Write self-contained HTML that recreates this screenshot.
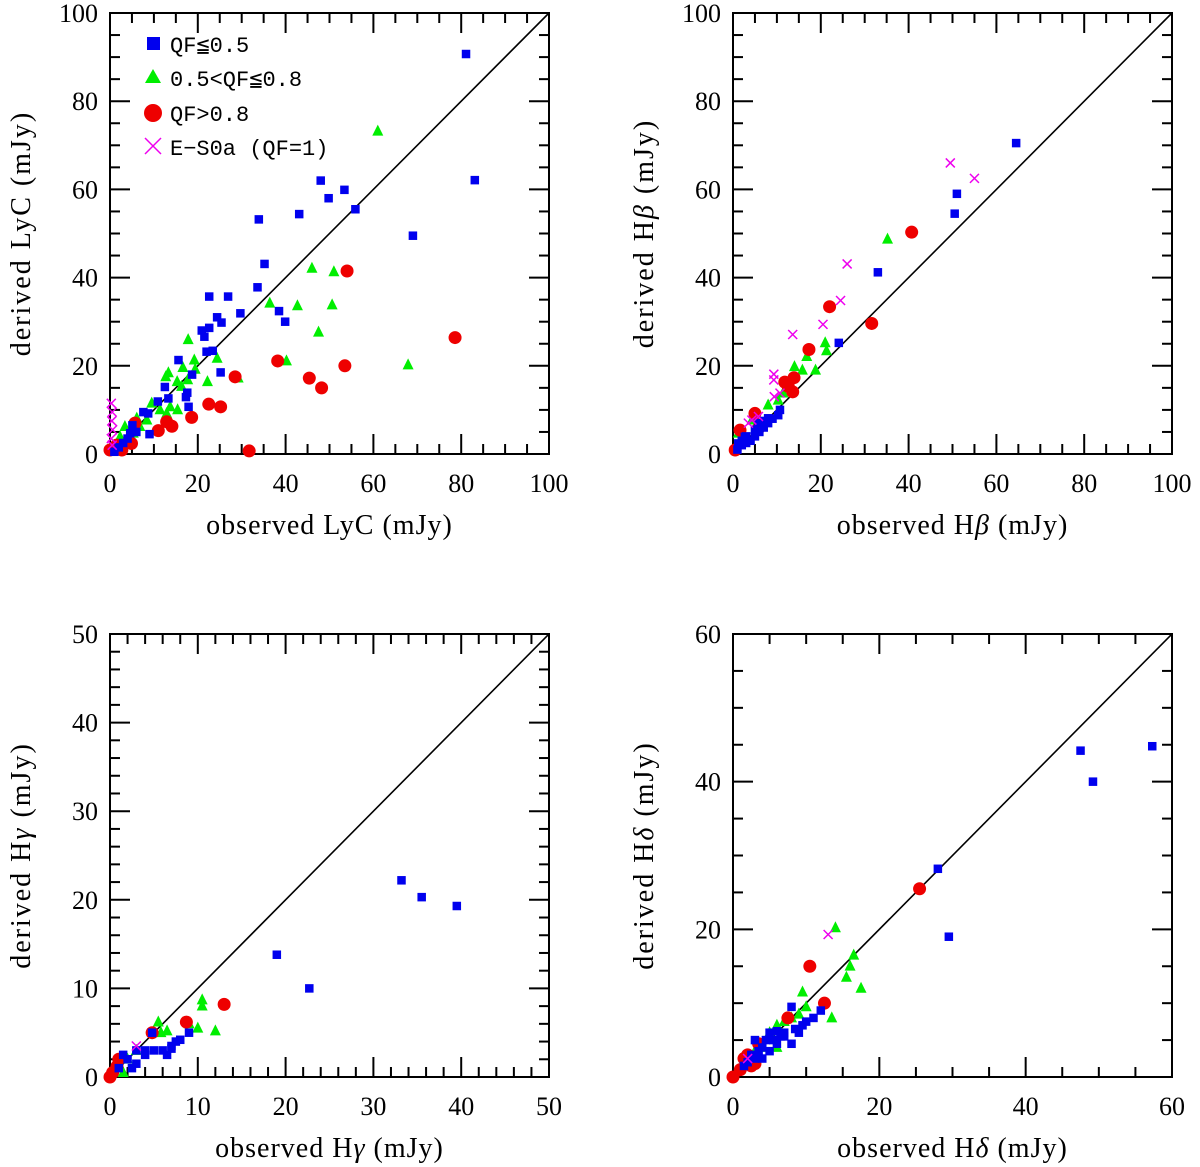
<!DOCTYPE html>
<html><head><meta charset="utf-8"><style>
html,body{margin:0;padding:0;background:#fff;}
svg{display:block;font-family:"Liberation Serif",serif;}
</style></head><body>
<svg id="fig" width="1200" height="1167" viewBox="0 0 1200 1167" xmlns="http://www.w3.org/2000/svg"></svg>
<script>
// ---------- Panel A: LyC ----------
const lycBlueX=[81.1,83.1,69.0,55.9,53.4,49.8,48.0,43.1,35.2,33.9,33.6,38.5,39.9,22.6,26.9,29.7,24.4,25.4,22.6,20.9,21.5,22.0,23.4,15.6,25.2,18.7,12.5,17.6,17.3,17.9,13.3,10.9,7.6,8.7,5.1,9.0,4.6,2,3,1,6,4];
const lycBlueY=[90.7,62.1,49.5,55.5,59.9,58.0,62.0,54.4,43.1,53.2,37.8,32.4,30.0,35.7,35.7,31.9,31.0,29.8,28.6,28.0,26.6,23.2,23.4,21.3,18.5,18.0,15.2,13.9,12.9,10.7,12.6,11.9,9.5,9.2,6.5,4.5,4.7,1.5,2.5,0.5,5,3.5];
const lycGreenX=[61.0,67.9,46.0,51.0,36.4,42.7,50.6,47.5,40.2,29.2,17.8,19.2,24.4,16.6,13.3,12.7,19.4,15.3,17.7,22.2,16.3,15.4,13.7,9.5,11.4,6.1,3.4,2.3,6.8,12.9,8.4,5.3];
const lycGreenY=[73.2,20.2,42.1,41.3,34.2,33.6,33.8,27.6,21.1,17.2,25.9,21.3,21.7,19.6,18.4,17.5,19.2,16.4,16.8,16.4,15.3,10.0,10.7,11.5,10.0,8.1,6.2,3.9,6.2,9.2,7.7,4.7];
const lycRedX=[54.0,78.6,53.5,38.2,45.4,48.2,28.5,31.7,22.5,25.2,18.6,14.1,12.9,11.0,5.7,2.7,1.5,4.9,0];
const lycRedY=[41.5,26.4,20.0,21.1,17.2,15.0,17.5,0.7,11.3,10.7,8.3,6.3,7.3,5.3,7.0,0.9,2.0,2.4,0.9];
const lycMagX=[0.3,0.5,0.4,0.6,0.3,0.5];
const lycMagY=[11.5,9.5,7.5,5.5,3.5,2.0];
// ---------- Panel B: Hbeta ----------
const hbBlueX=[64.5,51.0,50.5,33.0,24.1,10.7,10.3,5.8,2.7,1.2,8.0,1,2,3,4,5,6,7,8,9,3,2,5,7];
const hbBlueY=[70.5,59.0,54.5,41.2,25.2,10.0,8.8,7.0,3.9,2.4,8.1,1,2,2.5,3,4,5,6,7,8,4,3,5.5,7.5];
const hbGreenX=[35.2,21.0,21.3,18.8,16.8,14.0,15.8,8.0,10.3,11.4,4.3,1.2];
const hbGreenY=[48.7,25.2,23.4,19.0,22.1,19.8,19.0,11.1,12.2,13.8,7.7,4.7];
const hbRedX=[40.7,22.0,31.6,17.3,13.9,11.8,13.6,5.0,5.8,1.6,0.5,12.6];
const hbRedY=[50.3,33.4,29.6,23.7,17.3,16.3,14.1,9.2,5.8,5.4,0.9,15.3];
const hbMagX=[49.5,55.0,26.0,24.5,20.5,13.6,9.3,9.3,9.4,10.7,5.8,4.3,3.5];
const hbMagY=[66.0,62.5,43.1,34.8,29.4,27.1,18.1,16.8,13.0,13.8,8.5,7.7,7.0];
// ---------- Panel C: Hgamma ----------
const hgBlueX=[33.2,35.5,39.5,19.0,22.7,9.0,4.8,6,7,7.5,6.5,5,4,3,1.5,2,3,1,2.5,4,8,7];
const hgBlueY=[22.2,20.3,19.3,13.8,10.0,5.0,5.0,3,3.5,4,2.5,3,3,3,2.5,2,1.5,1,1,2.5,4.2,3.2];
const hgGreenX=[10.5,10.5,10.0,12.0,5.5,6.5,5.8,9.0,3,2,1,1.5];
const hgGreenY=[8.7,8.0,5.5,5.2,6.2,5.2,5.0,6.0,3,2,1.5,0.5];
const hgRedX=[13.0,8.7,4.8,0.8,0,1,0.3];
const hgRedY=[8.2,6.2,5.0,1.2,0,2,0.5];
const hgMagX=[3.0];
const hgMagY=[3.5];
// ---------- Panel D: Hdelta ----------
const hdBlueX=[47.5,57.3,49.2,28.0,29.5,12,10,9.5,8,8.5,9,8,7,6,5,5.5,6.5,4.5,3,4,3.5,2.5,3,2,1.5,7,6,5,4,11];
const hdBlueY=[44.2,44.8,40.0,28.2,19.0,9,7.5,7,9.5,6.5,6,4.5,6,6.2,6,5,5.5,5,5,4,3.5,3,2.5,2,1.5,5.5,4.5,3.5,2.5,8];
const hdGreenX=[14.0,16.5,16.0,15.5,17.5,13.5,9.5,10,9,7,6,5,4,3,2,6,8,1];
const hdGreenY=[20.2,16.5,15.0,13.5,12.0,8.0,11.5,9.5,8.5,7.5,7,6,4,3.5,2.5,4,8,1];
const hdRedX=[25.5,10.5,12.5,7.5,3.5,2,1.5,2.5,1,0,3];
const hdRedY=[25.5,15.0,10.0,8.0,4.5,3,2.5,1.5,1,0,1.8];
const hdMagX=[13.0,2.0];
const hdMagY=[19.3,2.5];

const panelMaxA=[100], panelMaxC=[50], panelMaxD=[60];
const ticksA=[0,20,40,60,80,100];
const ticksC=[0,10,20,30,40,50];
const ticksD=[0,20,40,60];

const NS="http://www.w3.org/2000/svg";
const svg=document.getElementById('fig');
function mk(tag,attrs,parent){const e=document.createElementNS(NS,tag);for(const k in attrs)e.setAttribute(k,attrs[k]);(parent||svg).appendChild(e);return e;}

function panel(name,L,T,R,B,max,major,minorStep,xlab,ylab,blue,green,red,mag,legend){
  const g=mk('g',{});
  
  
  const sx=v=>L+(R-L)*v/max, sy=v=>B-(B-T)*v/max;
  const fr=mk('rect',{x:L,y:T,width:R-L,height:B-T,fill:'none',stroke:'#000','stroke-width':2},g);
  
  
  for(let v=0;v<=max+1e-9;v+=minorStep){
    const isMaj=major.some(m=>Math.abs(m-v)<1e-9);
    const len=isMaj?20:10;
    const x=sx(v),y=sy(v);
    mk('line',{x1:x,y1:B,x2:x,y2:B-len,stroke:'#000','stroke-width':2},g);
    mk('line',{x1:x,y1:T,x2:x,y2:T+len,stroke:'#000','stroke-width':2},g);
    mk('line',{x1:L,y1:y,x2:L+len,y2:y,stroke:'#000','stroke-width':2},g);
    mk('line',{x1:R,y1:y,x2:R-len,y2:y,stroke:'#000','stroke-width':2},g);
  }
  major.forEach(v=>{
    const tx=mk('text',{x:sx(v),y:B+38,'font-size':26,'text-anchor':'middle'},g);
    tx.textContent=v;
    
    
    const ty=mk('text',{x:L-12,y:sy(v)+9,'font-size':26,'text-anchor':'end'},g);
    ty.textContent=v;
    
    
  });
  const d=mk('line',{x1:sx(0),y1:sy(0),x2:sx(max),y2:sy(max),stroke:'#000','stroke-width':1.6},g);
  
  
  const xt=mk('text',{x:(L+R)/2,y:B+80,'font-size':28,'text-anchor':'middle','letter-spacing':1},g);
  xt.innerHTML=xlab;
  
  
  const cy=(T+B)/2;
  const yt=mk('text',{x:0,y:0,'font-size':28,'text-anchor':'middle','letter-spacing':2},g);
  yt.setAttribute('transform',`translate(${L-80},${cy}) rotate(-90)`);
  yt.innerHTML=ylab;
  
  
  const sg=mk('g',{},g);
  const drawSq=(x,y,s)=>mk('rect',{x:x-s/2,y:y-s/2,width:s,height:s,fill:'#0000ee'},sg);
  const drawTri=(x,y,s)=>mk('polygon',{points:`${x},${y-s*0.6} ${x-s/2},${y+s*0.4} ${x+s/2},${y+s*0.4}`,fill:'#00ee00'},sg);
  const drawCir=(x,y,r)=>mk('circle',{cx:x,cy:y,r:r,fill:'#ee0000'},sg);
  const drawX=(x,y,s)=>mk('path',{d:`M${x-s} ${y-s}L${x+s} ${y+s}M${x-s} ${y+s}L${x+s} ${y-s}`,stroke:'#ee00ee','stroke-width':1.5,fill:'none'},sg);
  green[0].forEach((v,i)=>{const e=drawTri(sx(v),sy(green[1][i]),11);
    
    });
  red[0].forEach((v,i)=>{const e=drawCir(sx(v),sy(red[1][i]),6.5);
    
    });
  blue[0].forEach((v,i)=>{const e=drawSq(sx(v),sy(blue[1][i]),8.5);
    
    });
  mag[0].forEach((v,i)=>{const e=drawX(sx(v),sy(mag[1][i]),4.5);
    
    });
  if(legend){
    const lg=mk('g',{},g);
    
    
    const f={'font-size':22,'font-family':'"Liberation Mono",monospace'};
    let e=mk('rect',{x:147,y:37,width:13,height:13,fill:'#0000ee'},lg);
    e=mk('text',Object.assign({x:170,y:52},f),lg);e.textContent='QF≦0.5';
    
    
    mk('polygon',{points:'153,69 145,83 161,83',fill:'#00ee00'},lg);
    e=mk('text',Object.assign({x:170,y:86},f),lg);e.textContent='0.5<QF≦0.8';
    
    
    mk('circle',{cx:153,cy:113,r:9,fill:'#ee0000'},lg);
    e=mk('text',Object.assign({x:170,y:121},f),lg);e.textContent='QF>0.8';
    
    
    mk('path',{d:'M145 138L161 154M145 154L161 138',stroke:'#ee00ee','stroke-width':1.5},lg);
    e=mk('text',Object.assign({x:170,y:155},f),lg);e.textContent='E−S0a (QF=1)';
    
    
  }
}
panel('panel-lyc',110,13,549,454,panelMaxA[0],ticksA,5,'observed LyC  (mJy)','derived LyC  (mJy)',
  [lycBlueX,lycBlueY],[lycGreenX,lycGreenY],[lycRedX,lycRedY],[lycMagX,lycMagY],true);
panel('panel-hbeta',733,13,1172,454,panelMaxA[0],ticksA,5,'observed H<tspan font-style="italic">β</tspan> (mJy)','derived H<tspan font-style="italic">β</tspan> (mJy)',
  [hbBlueX,hbBlueY],[hbGreenX,hbGreenY],[hbRedX,hbRedY],[hbMagX,hbMagY],false);
panel('panel-hgamma',110,634,549,1077,panelMaxC[0],ticksC,2,'observed H<tspan font-style="italic">γ</tspan> (mJy)','derived H<tspan font-style="italic">γ</tspan> (mJy)',
  [hgBlueX,hgBlueY],[hgGreenX,hgGreenY],[hgRedX,hgRedY],[hgMagX,hgMagY],false);
panel('panel-hdelta',733,634,1172,1077,panelMaxD[0],ticksD,5,'observed H<tspan font-style="italic">δ</tspan> (mJy)','derived H<tspan font-style="italic">δ</tspan> (mJy)',
  [hdBlueX,hdBlueY],[hdGreenX,hdGreenY],[hdRedX,hdRedY],[hdMagX,hdMagY],false);
</script>
</body></html>
